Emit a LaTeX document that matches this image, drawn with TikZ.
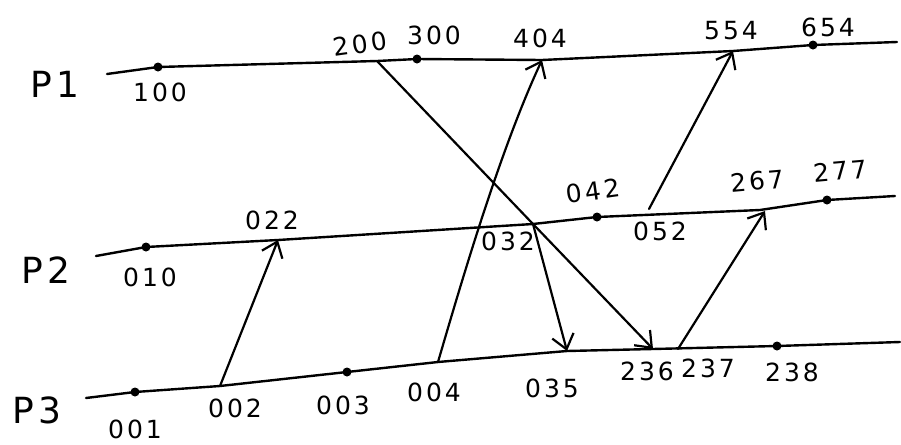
\documentclass[tikz,border=0pt]{standalone}
\usepackage{fontspec}
\setmainfont{DejaVu Sans}[LetterSpace=12]
\usetikzlibrary{arrows.meta}
\tikzset{
  proc/.style={line width=1.2pt, line cap=round, line join=round},
  msg/.style={line width=1.1pt, line cap=round, -{Straight Barb[length=7pt,width=11pt,line width=1.1pt]}},
  dot/.style={circle, fill=black, inner sep=0pt, minimum size=4.5pt},
  lbl/.style={inner sep=0pt, font=\fontsize{12.5}{14}\selectfont},
  plbl/.style={inner sep=0pt, font=\fontsize{18}{20}\selectfont},
}
\begin{document}
\begin{tikzpicture}[x=0.5pt, y=-0.5pt]
\useasboundingbox (0,0) rectangle (901,445);
% P1 events
\coordinate (p1s) at (107,74);
\coordinate (e100) at (158,67);
\coordinate (e200) at (377,61);
\coordinate (e300) at (417,59);
\coordinate (e404) at (542,60);
\coordinate (e554) at (733,51);
\coordinate (e654) at (813,45);
\coordinate (p1e) at (897,42);
% P2 events
\coordinate (p2s) at (96,256);
\coordinate (e010) at (146,247);
\coordinate (e022) at (278,240);
\coordinate (e032) at (533,224);
\coordinate (e042) at (597,217);
\coordinate (e052) at (649,209);
\coordinate (e267) at (765,211);
\coordinate (e277) at (827,200);
\coordinate (p2e) at (895,196);
% P3 events
\coordinate (p3s) at (86,398);
\coordinate (e001) at (135,392);
\coordinate (e002) at (220,386);
\coordinate (e003) at (347,372);
\coordinate (e004) at (438,362);
\coordinate (e035) at (567,351);
\coordinate (e236) at (653,349);
\coordinate (e237) at (678,349);
\coordinate (e238) at (777,346);
\coordinate (p3e) at (900,342);

% process lines
\draw[proc] (p1s) -- (e100) -- (e200) -- (e300) -- (e404) -- (e554) -- (e654) -- (p1e);
\draw[proc] (p2s) -- (e010) -- (e022) -- (e032) -- (e042) -- (760,210) -- (e277) -- (p2e);
\draw[proc] (p3s) -- (e001) -- (e002) -- (e003) -- (e004) -- (e035) -- (e236) -- (e238) -- (p3e);

% dots
\foreach \e in {e100,e300,e654,e010,e042,e277,e001,e003,e238}
  \node[dot] at (\e) {};

% messages
\draw[msg] (e002) -- (e022);
\draw[msg] (e004) .. controls (462,280) and (500,150) .. (e404);
\draw[msg] (e200) -- (e032) -- (e236);
\draw[msg] (e032) -- (e035);
\draw[msg] (e052) -- (e554);
\draw[msg] (e237) -- (e267);

% labels
\node[plbl] (lp1) at (55,84) {P1};
\node[plbl] (lp2) at (46,270) {P2};
\node[plbl] (lp3) at (37,410) {P3};
\node[lbl] (l100) at (160,92) {100};
\node[lbl, rotate=8] (l200) at (360,44) {200};
\node[lbl] (l300) at (434,35) {300};
\node[lbl] (l404) at (540,38) {404};
\node[lbl] (l554) at (731,31) {554};
\node[lbl] (l654) at (828,27) {654};
\node[lbl] (l010) at (150,277) {010};
\node[lbl] (l022) at (272,220) {022};
\node[lbl] (l032) at (508,241) {032};
\node[lbl, rotate=8] (l042) at (593,191) {042};
\node[lbl] (l052) at (660,231) {052};
\node[lbl, rotate=5] (l267) at (757,181) {267};
\node[lbl, rotate=5] (l277) at (840,171) {277};
\node[lbl] (l001) at (135,429) {001};
\node[lbl] (l002) at (235,408) {002};
\node[lbl] (l003) at (343,405) {003};
\node[lbl] (l004) at (434,392) {004};
\node[lbl] (l035) at (552,388) {035};
\node[lbl] (l236) at (647,371) {236};
\node[lbl] (l237) at (708,368) {237};
\node[lbl] (l238) at (792,372) {238};
\end{tikzpicture}
\end{document}
